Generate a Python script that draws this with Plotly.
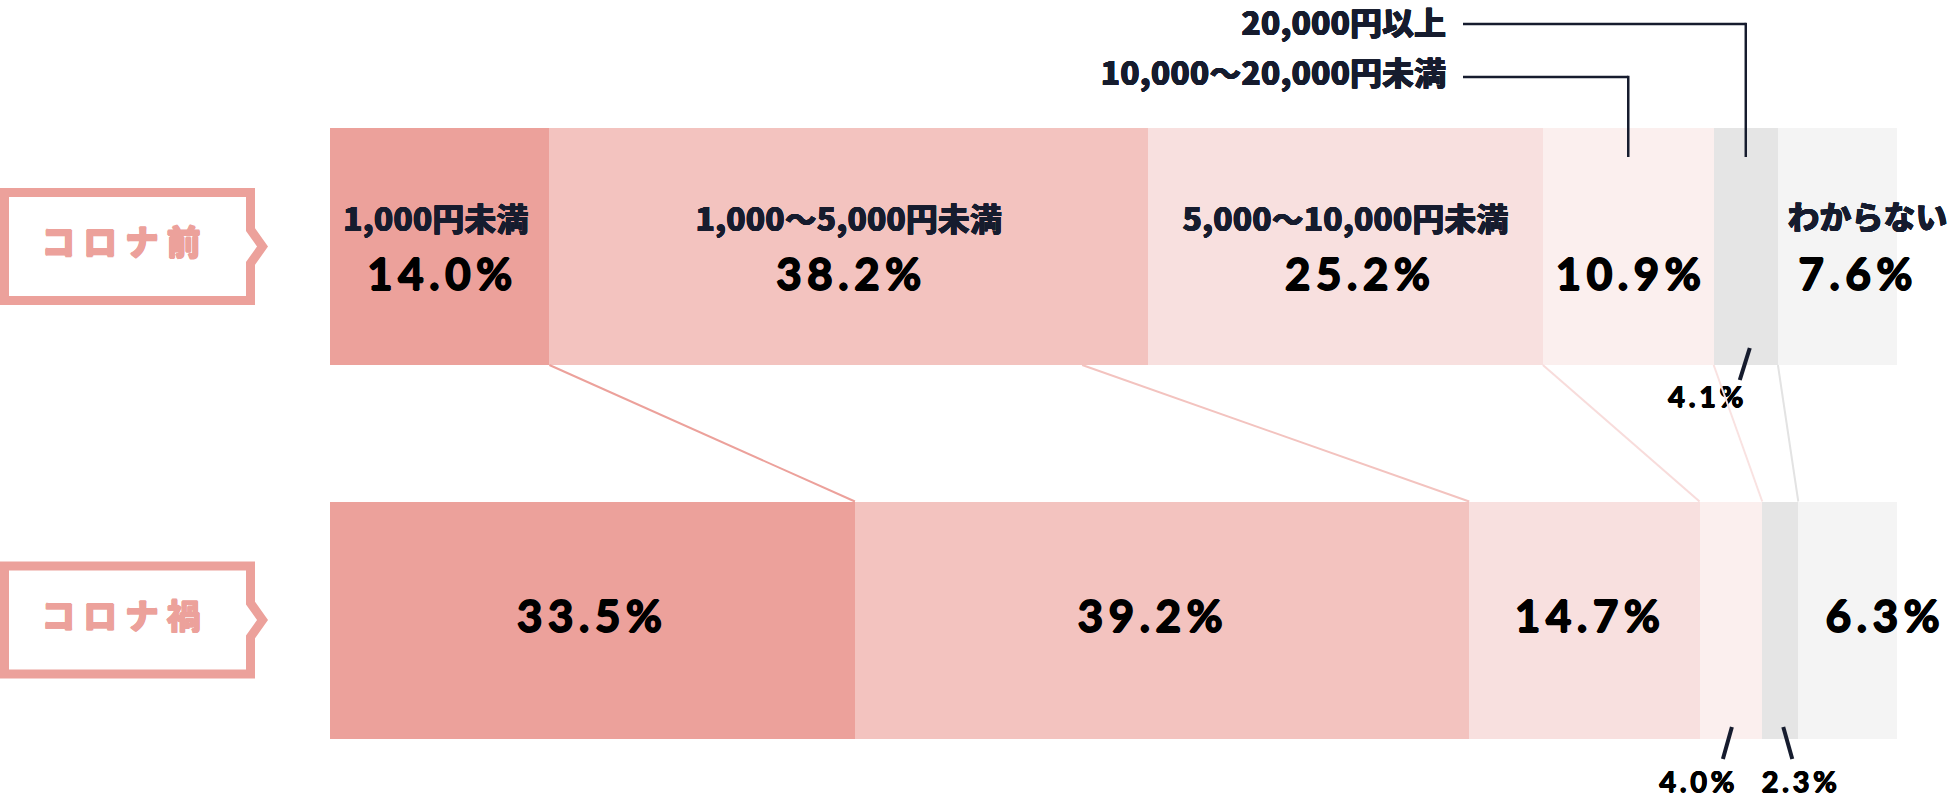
import plotly.graph_objects as go

# data
periods = ["コロナ前", "コロナ禍"]
categories = [
    "1,000円未満",
    "1,000〜5,000円未満",
    "5,000〜10,000円未満",
    "10,000〜20,000円未満",
    "20,000円以上",
    "わからない",
]
before = [14.0, 38.2, 25.2, 10.9, 4.1, 7.6]
during = [33.5, 39.2, 14.7, 4.0, 2.3, 6.3]
# where the connector lines leave the top bar
link_from = [14.0, 48.0, 77.4, 88.3, 92.4]

colors = ["#eca19b", "#f3c3bf", "#f8e0df", "#fbefee", "#e5e5e5", "#f4f4f4"]
link_colors = ["#eca19b", "#f3c3bf", "#f8dcdb", "#f9e2e1", "#e3e3e3"]

W, H = 1952, 805
BAR_L, BAR_R = 330, 1897          # pixel span of 0..100 %
SCALE = (BAR_R - BAR_L) / 100.0
ROW_Y = [246.5, 620]              # pixel centre of each bar
ROW_H = 237
STEP = ROW_Y[1] - ROW_Y[0]

NAVY = "#161c2e"
PINK = "#eca19b"
FONT_JP = "Noto Sans CJK JP Black, Noto Sans CJK JP"
FONT_NUM = "Lato"
TS = "\u2009"  # thin space, used as letter spacing


def heavy(c, w):
    # thicken glyphs a little with a text shadow ring
    return ", ".join(f"{dx}px {dy}px 0 {c}" for dx, dy in
                     [(w, 0), (-w, 0), (0, w), (0, -w)])


def xp(px):
    # pixel x -> percent axis
    return (px - BAR_L) / SCALE


def cum(vals):
    out, s = [], 0.0
    for v in vals:
        out.append(s)
        s += v
    return out


def spaced(s):
    return TS.join(s)


def b(s):
    return f"<b>{s}</b>"


def text_trace(xs, ys, texts, font, pos="middle center"):
    return go.Scatter(x=xs, y=ys, text=[b(t) for t in texts], mode="text",
                      textposition=pos, textfont=font, xaxis="x", yaxis="y2",
                      hoverinfo="skip", showlegend=False, cliponaxis=False)


fig = go.Figure()
for i, cat in enumerate(categories):
    fig.add_trace(go.Bar(
        y=periods, x=[before[i], during[i]], orientation="h", name=cat,
        marker=dict(color=colors[i], line=dict(width=0)),
        width=ROW_H / STEP, hoverinfo="skip",
    ))

shapes = []

# label boxes on the left
lw = 9
for yc in ROW_Y:
    t, bt = yc - 58.5 + lw / 2, yc + 58.5 - lw / 2
    r = 255 - lw / 2
    pts = [(lw / 2, t), (r, t), (r, yc - 17), (r + 12, yc), (r, yc + 17), (r, bt), (lw / 2, bt)]
    path = "M " + " L ".join(f"{xp(a):.4f},{c:.2f}" for a, c in pts) + " Z"
    shapes.append(dict(type="path", xref="x", yref="y2", path=path,
                       line=dict(color=PINK, width=lw), fillcolor="white", layer="below"))
fig.add_trace(text_trace([xp(121)] * 2, ROW_Y, [" ".join(p) for p in periods],
                         dict(family=FONT_JP, size=34, color=PINK, shadow=heavy(PINK, 0.6))))

starts_b = cum(before)
starts_d = cum(during)

# connector lines between the bars
for i in range(5):
    shapes.append(dict(type="line", xref="x", yref="y2",
                       x0=link_from[i], y0=ROW_Y[0] + ROW_H / 2,
                       x1=starts_d[i] + during[i], y1=ROW_Y[1] - ROW_H / 2,
                       line=dict(color=link_colors[i], width=2)))

pct_font = dict(family=FONT_NUM, size=44, color="#000000", shadow=heavy("#000", 0.9))
small_font = dict(family=FONT_NUM, size=29, color="#000000", shadow=heavy("#000", 0.6))
cat_font = dict(family=FONT_JP, size=32, color=NAVY, shadow=heavy(NAVY, 0.4))

# category names inside the top bar
cx, cy, ct = [], [], []
for i, dx in [(0, -4), (1, 0), (2, 0), (5, 30)]:
    cx.append(starts_b[i] + before[i] / 2 + dx / SCALE)
    cy.append(223 if i < 5 else 221)
    ct.append(categories[i])
fig.add_trace(text_trace(cx, cy, ct, cat_font))

# big percentages
px_, py_, pt = [], [], []
for i, dx in [(0, 0), (1, 0), (2, 12), (3, 0), (5, 18)]:
    px_.append(starts_b[i] + before[i] / 2 + dx / SCALE)
    py_.append(279)
    pt.append(spaced(f"{before[i]:.1f}%"))
for i, dx in [(0, -3), (1, -12), (2, 3), (5, 35)]:
    px_.append(starts_d[i] + during[i] / 2 + dx / SCALE)
    py_.append(621)
    pt.append(spaced(f"{during[i]:.1f}%"))
fig.add_trace(text_trace(px_, py_, pt, pct_font))

# callouts above the top bar
lx, ly, lt = [], [], []
for i, ty in [(4, 24), (3, 77)]:
    xc = starts_b[i] + before[i] / 2
    lx.append(xp(1446))
    ly.append(ty + 3 if i == 4 else ty)
    lt.append(categories[i])
    shapes.append(dict(type="line", xref="x", yref="y2",
                       x0=xp(1463), y0=ty, x1=xc, y1=ty,
                       line=dict(color=NAVY, width=2.5)))
    shapes.append(dict(type="line", xref="x", yref="y2",
                       x0=xc, y0=ty - 1.2, x1=xc, y1=157,
                       line=dict(color=NAVY, width=2.5)))
fig.add_trace(text_trace(lx, ly, lt, cat_font, pos="middle left"))

# small slashed labels for thin segments
sx, sy, st = [], [], []


def slash(xc, dx0, y0, dx1, y1, label, ldx, ly):
    shapes.append(dict(type="line", xref="x", yref="y2",
                       x0=xc + dx0 / SCALE, y0=y0, x1=xc + dx1 / SCALE, y1=y1,
                       line=dict(color=NAVY, width=4)))
    sx.append(xc + ldx / SCALE)
    sy.append(ly)
    st.append(spaced(label))


slash(starts_b[4] + before[4] / 2, 4, 348, -6, 380, f"{before[4]:.1f}%", -40, 400)
slash(starts_d[3] + during[3] / 2, 1, 727, -8, 759, f"{during[3]:.1f}%", -34, 785)
slash(starts_d[4] + during[4] / 2, 3, 727, 12, 759, f"{during[4]:.1f}%", 19, 785)
fig.add_trace(text_trace(sx, sy, st, small_font))

fig.update_layout(
    barmode="stack",
    width=W, height=H,
    margin=dict(l=0, r=0, t=0, b=0, pad=0),
    paper_bgcolor="white", plot_bgcolor="white",
    showlegend=False,
    bargap=0,
    xaxis=dict(range=[xp(0), xp(W)], visible=False, fixedrange=True),
    yaxis=dict(categoryorder="array", categoryarray=periods,
               range=[1 + (H - ROW_Y[1]) / STEP, -ROW_Y[0] / STEP],
               visible=False, fixedrange=True),
    yaxis2=dict(range=[H, 0], overlaying="y", visible=False, fixedrange=True),
    shapes=shapes,
)

fig.write_html("out.html", config={"displayModeBar": False},
               post_script="document.body.style.margin='0';")
